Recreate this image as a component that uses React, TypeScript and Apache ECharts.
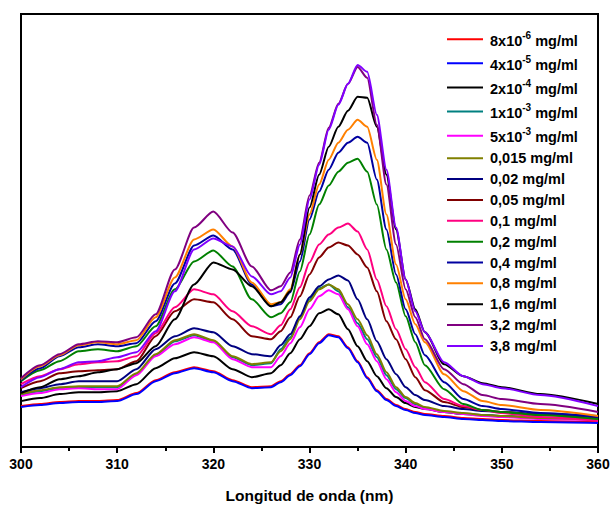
import React, { useEffect, useRef } from "react";
import * as echarts from "echarts";

// Wavelength (nm)
const wavelengths = [300, 302, 304, 306, 308, 310, 312, 314, 316, 318, 320, 322, 324, 326, 327, 328, 329, 330, 331, 332, 333, 334, 335, 336, 337, 338, 339, 340, 341, 342, 344, 346, 348, 350, 354, 360];

// Absorbance (arbitrary units x1000)
const c8e6 = [41, 43, 45, 46, 46, 47, 54, 67, 75, 80, 76, 67, 60, 61, 66, 73, 82, 94, 105, 113, 111, 100, 86, 70, 57, 48, 42, 38, 35, 33, 31, 29, 28, 27, 26, 25];
const c4e5 = [40, 42, 44, 45, 45, 46, 53, 66, 74, 79, 75, 66, 59, 60, 65, 72, 81, 93, 104, 112, 110, 99, 85, 69, 56, 47, 41, 37, 34, 32, 30, 28, 27, 26, 25, 24];
const c2e4 = [46, 49, 53, 55, 55, 56, 63, 79, 89, 95, 91, 78, 70, 74, 82, 94, 108, 121, 134, 138, 133, 118, 101, 86, 71, 59, 50, 44, 40, 38, 35, 33, 32, 31, 29, 28];
const c1e3 = [52, 56, 59, 60, 60, 60, 73, 92, 106, 112, 106, 90, 82, 84, 98, 110, 130, 148, 159, 163, 156, 140, 124, 108, 90, 72, 58, 49, 43, 39, 35, 33, 32, 31, 29, 28];
const c5e3 = [51, 54, 58, 59, 58, 58, 72, 91, 103, 110, 105, 88, 80, 80, 91, 104, 120, 138, 151, 157, 153, 138, 121, 103, 86, 68, 55, 46, 41, 38, 35, 33, 31, 30, 28, 27];
const c0015 = [53, 57, 60, 61, 61, 61, 74, 93, 107, 113, 107, 91, 83, 85, 96, 108, 128, 146, 158, 163, 158, 143, 128, 112, 93, 75, 60, 50, 44, 40, 36, 34, 32, 31, 29, 28];
const c002 = [55, 59, 63, 66, 66, 66, 78, 98, 111, 119, 115, 101, 93, 91, 102, 113, 131, 150, 161, 168, 172, 167, 148, 128, 106, 88, 73, 60, 52, 47, 41, 38, 36, 35, 33, 31];
const c005 = [59, 66, 74, 76, 77, 78, 86, 111, 136, 148, 145, 128, 111, 108, 116, 130, 151, 173, 190, 200, 205, 202, 193, 180, 156, 126, 108, 88, 70, 57, 45, 40, 37, 35, 32, 29];
const c01 = [63, 71, 78, 83, 85, 86, 91, 114, 140, 158, 153, 136, 121, 113, 122, 138, 160, 185, 203, 213, 220, 224, 216, 198, 168, 141, 118, 98, 80, 65, 48, 41, 37, 34, 30, 26];
const c02 = [66, 77, 86, 96, 98, 96, 101, 121, 158, 186, 197, 181, 148, 130, 134, 145, 176, 213, 243, 262, 276, 285, 289, 276, 243, 198, 165, 131, 105, 82, 58, 43, 37, 35, 32, 28];
const c04 = [67, 79, 91, 100, 103, 101, 104, 126, 164, 202, 212, 198, 163, 141, 143, 155, 186, 228, 256, 278, 295, 305, 311, 305, 268, 218, 173, 138, 113, 92, 65, 48, 41, 38, 34, 30];
const c08 = [68, 81, 92, 102, 105, 103, 107, 130, 170, 208, 218, 201, 165, 143, 145, 158, 193, 233, 263, 288, 305, 318, 328, 321, 288, 233, 183, 148, 123, 105, 73, 56, 46, 42, 37, 31];
const c16 = [54, 60, 68, 71, 75, 78, 84, 101, 128, 163, 185, 178, 161, 141, 145, 156, 193, 240, 273, 301, 321, 337, 351, 350, 321, 273, 218, 168, 138, 115, 83, 71, 64, 60, 53, 43];
const c32 = [69, 82, 93, 103, 106, 105, 110, 133, 178, 220, 236, 215, 181, 157, 161, 175, 208, 252, 285, 320, 344, 364, 381, 370, 323, 263, 203, 158, 130, 108, 78, 63, 52, 48, 43, 35];
const c38 = [60, 70, 78, 85, 86, 90, 95, 116, 156, 198, 209, 201, 171, 153, 156, 170, 203, 248, 283, 318, 343, 364, 383, 376, 333, 278, 220, 168, 136, 115, 85, 71, 63, 59, 52, 41];

const xTicks = [300, 310, 320, 330, 340, 350, 360];

// Legend labels: [base, superscript, suffix]
const seriesLabels: [string, string, string][] = [
  ["8x10", "-6", " mg/ml"],
  ["4x10", "-5", " mg/ml"],
  ["2x10", "-4", " mg/ml"],
  ["1x10", "-3", " mg/ml"],
  ["5x10", "-3", " mg/ml"],
  ["0,015 mg/ml", "", ""],
  ["0,02 mg/ml", "", ""],
  ["0,05 mg/ml", "", ""],
  ["0,1 mg/ml", "", ""],
  ["0,2 mg/ml", "", ""],
  ["0,4 mg/ml", "", ""],
  ["0,8 mg/ml", "", ""],
  ["1,6 mg/ml", "", ""],
  ["3,2 mg/ml", "", ""],
  ["3,8 mg/ml", "", ""],
];
const seriesData = [c8e6, c4e5, c2e4, c1e3, c5e3, c0015, c002, c005, c01, c02, c04, c08, c16, c32, c38];
const seriesColors = [
  "#FF0000", "#0000FF", "#000000", "#008080", "#FF00FF", "#808000", "#000080",
  "#800000", "#FF0080", "#008000", "#0000A0", "#FF8000", "#000000", "#800080", "#8000FF",
];

const FONT = "Arial, 'Liberation Sans', Helvetica, sans-serif";

export default function App() {
  const ref = useRef<HTMLDivElement>(null);
  useEffect(() => {
    if (!ref.current) return;
    const chart = echarts.init(ref.current, undefined, { renderer: "svg" });
    const names = seriesLabels.map((l) => l[0] + l[1] + l[2]);
    const labelMap: Record<string, string> = {};
    seriesLabels.forEach((l, i) => {
      labelMap[names[i]] = l[1]
        ? `{b|${l[0]}}{s|${l[1]}}{b|${l[2]}}`
        : `{p|${l[0]}}`;
    });
    chart.setOption({
      animation: false,
      backgroundColor: "#fff",
      grid: {
        left: 21,
        right: 15,
        top: 14,
        bottom: 60,
        show: true,
        borderColor: "#000",
        borderWidth: 2,
      },
      legend: {
        orient: "vertical",
        left: 447,
        top: 30,
        padding: 0,
        itemWidth: 36,
        itemHeight: 2,
        itemGap: 5.85,
        icon: "rect",
        data: names,
        formatter: (n: string) => labelMap[n],
        textStyle: {
          fontFamily: FONT,
          fontWeight: "bold",
          fontSize: 14.5,
          color: "#000",
          padding: [0, 0, 0, 2],
          rich: {
            b: { fontFamily: FONT, fontWeight: "bold", fontSize: 14.5, color: "#000", lineHeight: 18.3, verticalAlign: "bottom" },
            s: { fontFamily: FONT, fontWeight: "bold", fontSize: 10, color: "#000", lineHeight: 18.3, verticalAlign: "top" },
            p: { fontFamily: FONT, fontWeight: "bold", fontSize: 14.5, color: "#000", lineHeight: 15 },
          },
        },
      },
      xAxis: {
        type: "value",
        min: 300,
        max: 360,
        interval: 10,
        name: "Longitud de onda (nm)",
        nameLocation: "middle",
        nameGap: 40,
        nameTextStyle: { fontFamily: FONT, fontWeight: "bold", fontSize: 15.5, color: "#000" },
        axisLine: { show: true, onZero: false, lineStyle: { color: "#000", width: 2 } },
        axisTick: { show: true, inside: false, length: 6, lineStyle: { color: "#000", width: 2 } },
        minorTick: { show: true, splitNumber: 2, length: 4, lineStyle: { color: "#000", width: 2 } },
        splitLine: { show: false },
        axisLabel: {
          margin: 10,
          fontFamily: FONT,
          fontWeight: "bold",
          fontSize: 14,
          color: "#000",
          formatter: (v: number) => (xTicks.includes(v) ? String(v) : ""),
        },
      },
      yAxis: {
        type: "value",
        min: 0,
        max: 434,
        axisLine: { show: true, lineStyle: { color: "#000", width: 2 } },
        axisTick: { show: false },
        axisLabel: { show: false },
        splitLine: { show: false },
      },
      series: seriesData.map((d, i) => ({
        name: names[i],
        type: "line",
        data: d.map((v, j) => [wavelengths[j], v]),
        symbol: "none",
        showSymbol: false,
        smooth: 0.25,
        smoothMonotone: "x",
        lineStyle: { color: seriesColors[i], width: 2 },
        itemStyle: { color: seriesColors[i] },
      })),
    });
    return () => chart.dispose();
  }, []);
  return (
    <div
      ref={ref}
      style={{ position: "fixed", left: 0, top: 0, width: 613, height: 508 }}
    />
  );
}
